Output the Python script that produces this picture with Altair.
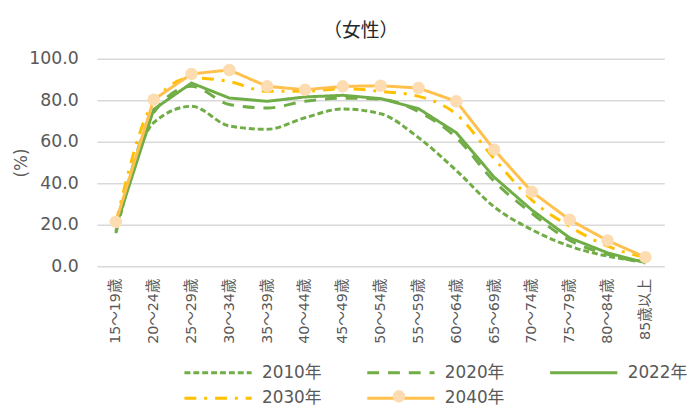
import altair as alt
import pandas as pd

ages = ["15～19歳", "20～24歳", "25～29歳", "30～34歳", "35～39歳", "40～44歳",
        "45～49歳", "50～54歳", "55～59歳", "60～64歳", "65～69歳", "70～74歳",
        "75～79歳", "80～84歳", "85歳以上"]

series = ["2010年", "2020年", "2022年", "2030年", "2040年"]

v2010 = [16.0, 69.2, 77.1, 67.6, 66.0, 71.6, 75.8, 73.5, 62.0, 46.2, 28.7, 17.6, 9.7, 4.9, 2.3]
v2020 = [17.0, 74.0, 86.7, 78.0, 76.3, 79.5, 81.0, 80.5, 74.5, 62.0, 41.0, 25.5, 12.5, 5.8, 1.6]
v2022 = [19.0, 75.6, 88.3, 81.1, 79.5, 81.6, 82.4, 80.8, 76.0, 64.4, 43.0, 27.1, 13.7, 6.5, 1.8]
v2030 = [21.0, 79.0, 90.8, 89.0, 84.3, 84.3, 85.6, 84.3, 81.9, 73.3, 51.9, 31.9, 19.2, 9.7, 4.2]
v2040 = [21.4, 80.3, 92.7, 94.6, 86.7, 85.1, 86.7, 87.0, 85.9, 79.5, 56.2, 35.9, 22.4, 12.4, 4.4]

values = {"2010年": v2010, "2020年": v2020, "2022年": v2022, "2030年": v2030, "2040年": v2040}

rows = []
for s in series:
    for a, v in zip(ages, values[s]):
        rows.append({"age": a, "series": s, "value": v})
df = pd.DataFrame(rows)

FONT = "DejaVu Sans, Noto Sans CJK JP, sans-serif"
GREY = "#595959"

line_colors = ["#70AD47", "#70AD47", "#70AD47", "#FFC000", "#FFC04D"]
dashes = [[6, 3], [12, 9], [1, 0], [12, 8, 3, 8], [1, 0]]

main_legend = alt.Legend(
    title=None, orient="none", legendX=139, legendY=308, columns=3,
    direction="horizontal",
    symbolType="M-7.5,0H1", symbolSize=256, symbolStrokeWidth=3,
    labelFont=FONT, labelFontSize=17, labelColor=GREY, labelOffset=9,
    columnPadding=39, rowPadding=8, padding=0, symbolOpacity=1,
)

x = alt.X("age:O", sort=ages, title=None,
          axis=alt.Axis(labelAngle=270, labelFont=FONT, labelFontSize=14.5,
                        labelColor=GREY, ticks=False, tickSize=0, domain=False,
                        grid=False, labelPadding=12))
y = alt.Y("value:Q", scale=alt.Scale(domain=[0, 100]),
          title="(%)",
          axis=alt.Axis(values=[0, 20, 40, 60, 80, 100], format=".1f",
                        labelFont=FONT, labelFontSize=17.5, labelColor=GREY,
                        ticks=False, tickSize=0, domain=False,
                        grid=True, gridColor="#D9D9D9", gridWidth=1.5,
                        labelPadding=19,
                        titleFont=FONT, titleFontSize=17, titleColor=GREY,
                        titleFontWeight="normal", titleAngle=270,
                        titleX=-76, titleY=105, titleAlign="center",
                        titleBaseline="middle"))
color = alt.Color("series:N", scale=alt.Scale(domain=series, range=line_colors),
                  legend=main_legend)
dash = alt.StrokeDash("series:N", scale=alt.Scale(domain=series, range=dashes),
                      legend=main_legend)

base = alt.Chart(df)

smooth = base.transform_filter(
    alt.FieldOneOfPredicate(field="series", oneOf=["2010年", "2020年", "2030年"])
).mark_line(interpolate="monotone", strokeWidth=3).encode(x=x, y=y, color=color, strokeDash=dash)

straight = base.transform_filter(
    alt.FieldOneOfPredicate(field="series", oneOf=["2022年", "2040年"])
).mark_line(strokeWidth=3).encode(x=x, y=y, color=color, strokeDash=dash)

points = base.transform_filter(
    alt.FieldEqualPredicate(field="series", equal="2040年")
).mark_point(filled=True, size=160, opacity=1, strokeWidth=0).encode(
    x=x, y=y,
    fill=alt.Fill("series:N", scale=alt.Scale(domain=["2040年"], range=["#FDDCB1"]),
                  legend=alt.Legend(title=None, orient="none", legendX=299, legendY=335,
                                    symbolType="circle", symbolSize=160,
                                    symbolStrokeWidth=0, symbolOpacity=1,
                                    labelExpr="''", labelFontSize=1, padding=0))
)

chart = alt.layer(smooth, straight, points).properties(
    width=574, height=210,
    autosize=alt.AutoSizeParams(type="none"),
    padding={"left": 90, "top": 49, "right": 25, "bottom": 143},
    title=alt.TitleParams("（女性）", font=FONT, fontSize=19, fontWeight="normal",
                          color="#262626", offset=9, dx=-20, anchor="middle"),
).resolve_scale(color="shared", strokeDash="shared").configure_view(stroke=None)

chart.save("out.html", embed_options={"renderer": "svg", "actions": False})
